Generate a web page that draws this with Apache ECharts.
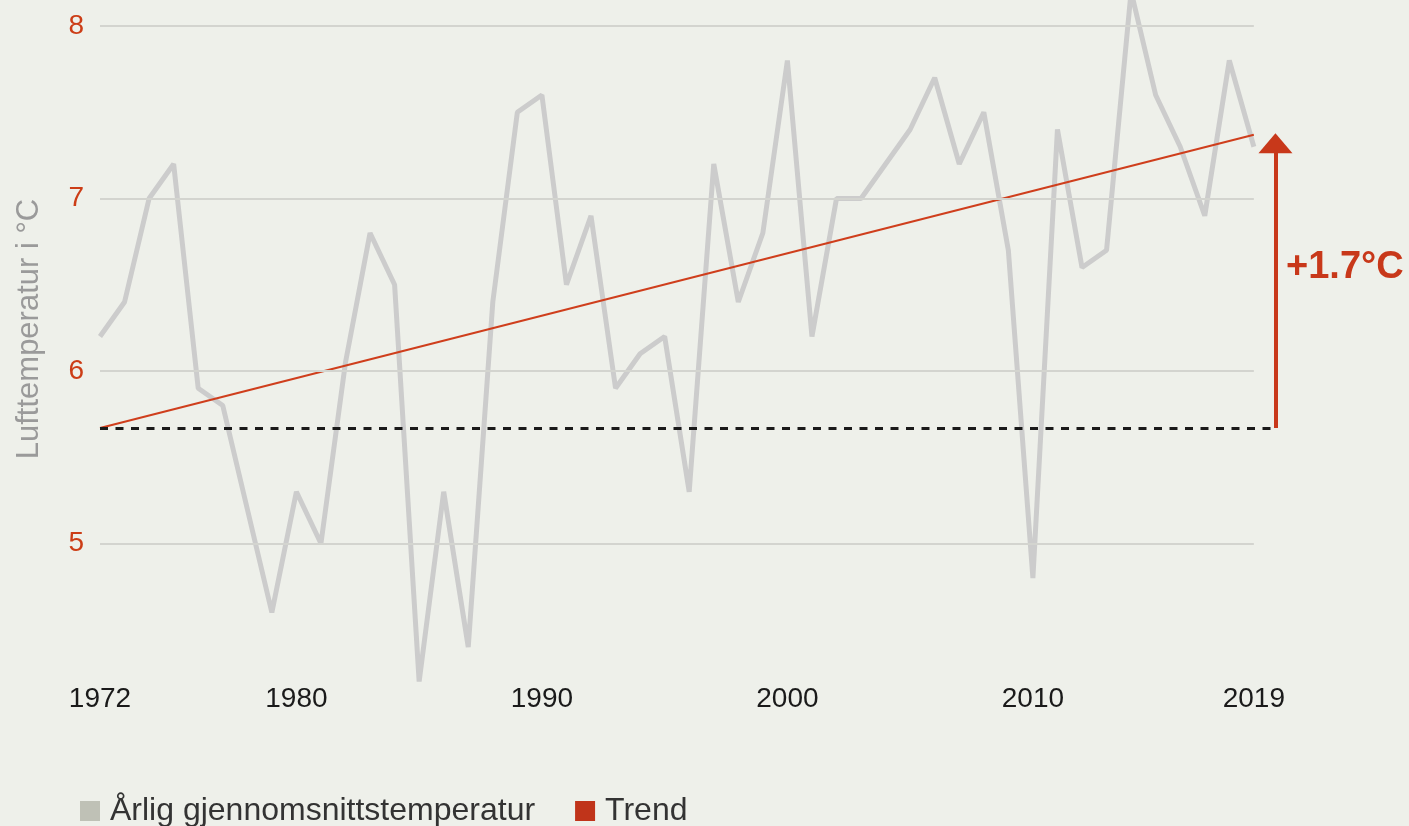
<!DOCTYPE html>
<html>
<head>
<meta charset="utf-8">
<title>Lufttemperatur</title>
<script src="https://cdn.jsdelivr.net/npm/echarts@6/dist/echarts.min.js"></script>
<style>
    html, body { margin: 0; padding: 0; background: #eef0ea; }
    #temp_echart { width: 1409px; height: 826px; }
</style>
</head>
<body>
<div id="temp_echart"></div>
<script>
// årstall og årlig gjennomsnittstemperatur (°C)
var years = [1972, 1973, 1974, 1975, 1976, 1977, 1978, 1979, 1980, 1981,
    1982, 1983, 1984, 1985, 1986, 1987, 1988, 1989, 1990, 1991,
    1992, 1993, 1994, 1995, 1996, 1997, 1998, 1999, 2000, 2001,
    2002, 2003, 2004, 2005, 2006, 2007, 2008, 2009, 2010, 2011,
    2012, 2013, 2014, 2015, 2016, 2017, 2018, 2019];
var temps = [6.2, 6.4, 7.0, 7.2, 5.9, 5.8, 5.2, 4.6, 5.3, 5.0,
    6.05, 6.8, 6.5, 4.2, 5.3, 4.4, 6.4, 7.5, 7.6, 6.5,
    6.9, 5.9, 6.1, 6.2, 5.3, 7.2, 6.4, 6.8, 7.8, 6.2,
    7.0, 7.0, 7.2, 7.4, 7.7, 7.2, 7.5, 6.7, 4.8, 7.4,
    6.6, 6.7, 8.2, 7.6, 7.3, 6.9, 7.8, 7.3];

// trend
var trendYears = [1972, 2019];
var trendVals = [5.67, 7.37];

// pil med økning
var arrowYear = 2019.88;
var arrowTop = 7.32;
var riseText = '+1.7°C';

// akser
var yTicks = [5, 6, 7, 8];
var xTickYears = [1972, 1980, 1990, 2000, 2010, 2019];

var seriesNames = ['Årlig gjennomsnittstemperatur', 'Trend'];
var fontName = '"Liberation Sans", Arial, sans-serif';

function DrawChart() {
    var myChart = echarts.init(document.getElementById('temp_echart'));

    var tempData = [];
    for (var i = 0; i < years.length; i++) {
        tempData.push([years[i], temps[i]]);
    }
    var trendData = [];
    for (var j = 0; j < trendYears.length; j++) {
        trendData.push([trendYears[j], trendVals[j]]);
    }
    // rutenett bare fra første til siste år
    var gridLines = [];
    for (var k = 0; k < yTicks.length; k++) {
        gridLines.push([{ coord: [years[0], yTicks[k]] }, { coord: [years[years.length - 1], yTicks[k]] }]);
    }
    var baseVal = trendVals[0];

    var Option = {
        backgroundColor: '#eef0ea',
        animation: false,
        textStyle: { fontFamily: fontName },
        grid: {
            left: 100,
            right: 130.6,
            top: -146.5,
            height: 862.5,
            containLabel: false,
            outerBoundsMode: 'none'
        },
        legend: {
            left: 75,
            top: 790,
            icon: 'rect',
            itemWidth: 20,
            itemHeight: 20,
            itemGap: 40,
            textStyle: { fontSize: 32, color: '#333', fontFamily: fontName, padding: [0, 0, 0, 5] },
            data: [
                { name: seriesNames[0], itemStyle: { color: '#bfc1b6' } },
                { name: seriesNames[1], itemStyle: { color: '#c0341a' } }
            ]
        },
        xAxis: {
            type: 'value',
            min: 1972,
            max: 2020,
            interval: 1,
            axisLine: { show: false },
            axisTick: { show: false },
            splitLine: { show: false },
            axisLabel: {
                margin: -31,
                fontSize: 28,
                color: '#1a1a1a',
                fontFamily: fontName,
                formatter: function (v) {
                    return xTickYears.indexOf(v) >= 0 ? String(v) : '';
                }
            }
        },
        yAxis: {
            type: 'value',
            min: 4,
            max: 9,
            interval: 1,
            axisLine: { show: false },
            axisTick: { show: false },
            splitLine: { show: false },
            axisLabel: {
                margin: 16,
                fontSize: 28,
                color: '#cc3d16',
                fontFamily: fontName,
                formatter: function (v) {
                    return yTicks.indexOf(v) >= 0 ? String(v) : '';
                }
            }
        },
        graphic: [{
            type: 'text',
            x: 29,
            y: 329,
            rotation: Math.PI / 2,
            style: {
                text: 'Lufttemperatur i °C',
                fill: '#9a9a9a',
                font: '31px ' + fontName,
                align: 'center',
                verticalAlign: 'middle'
            }
        }, {
            type: 'text',
            x: 1286,
            y: 268,
            style: {
                text: riseText,
                fill: '#c8381a',
                font: 'bold 38px ' + fontName,
                align: 'left',
                verticalAlign: 'middle'
            }
        }],
        series: [{
            // rutenett
            name: 'grid',
            type: 'line',
            data: [],
            z: 1,
            silent: true,
            markLine: {
                silent: true,
                symbol: ['none', 'none'],
                label: { show: false },
                lineStyle: { color: '#d3d4cf', width: 2, type: 'solid' },
                data: gridLines
            }
        }, {
            name: seriesNames[0],
            type: 'line',
            data: tempData,
            z: 2,
            showSymbol: false,
            symbol: 'none',
            lineStyle: { color: '#cccccc', width: 5 },
            itemStyle: { color: '#cccccc' }
        }, {
            name: seriesNames[1],
            type: 'line',
            data: trendData,
            z: 3,
            showSymbol: false,
            symbol: 'none',
            lineStyle: { color: '#cf3e1c', width: 2 },
            itemStyle: { color: '#cf3e1c' },
            markLine: {
                silent: true,
                label: { show: false },
                data: [
                    [{ coord: [trendYears[0], baseVal], symbol: 'none',
                        lineStyle: { color: '#1a1a1a', width: 3, type: [8, 7.5] } },
                     { coord: [arrowYear, baseVal], symbol: 'none' }],
                    [{ coord: [arrowYear, baseVal], symbol: 'none',
                        lineStyle: { color: '#c8381a', width: 4, type: 'solid' } },
                     { coord: [arrowYear, arrowTop], symbol: 'triangle', symbolSize: [34, 20] }]
                ]
            }
        }]
    };
    myChart.setOption(Option);
}

DrawChart();
</script>
</body>
</html>
